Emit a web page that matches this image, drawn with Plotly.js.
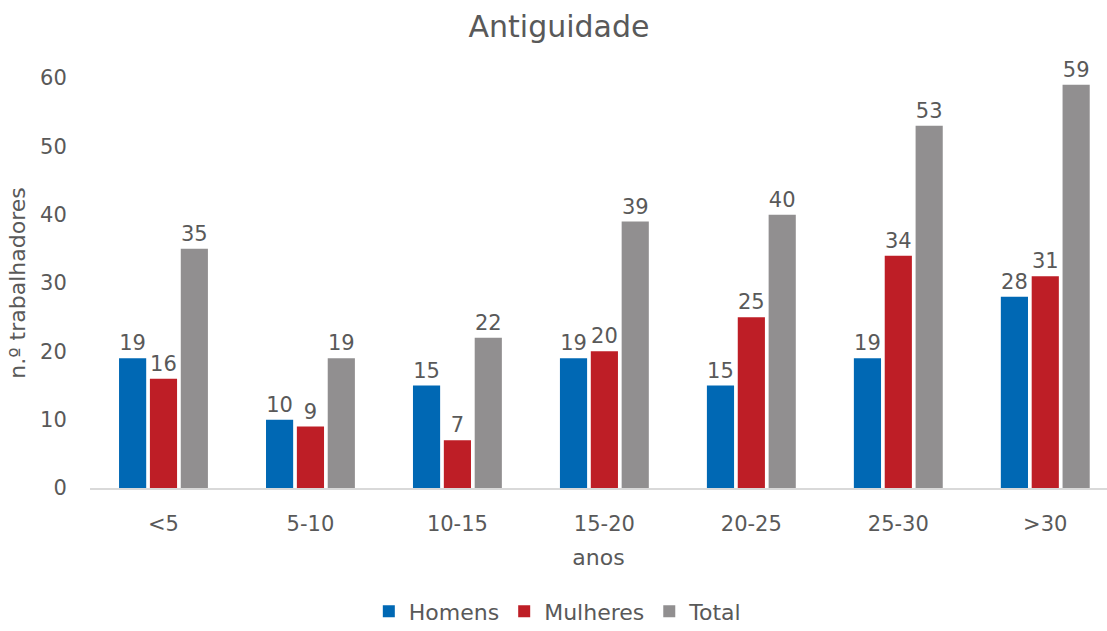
<!DOCTYPE html>
<html>
<head>
<meta charset="utf-8">
<script src="https://cdn.plot.ly/plotly-3.0.1.min.js"></script>
<style>html,body{margin:0;padding:0;background:#fff;}#chart{width:1107px;height:631px;}</style>
</head>
<body>
<div id="chart"></div>
<script>
var categories = ['<5', '5-10', '10-15', '15-20', '20-25', '25-30', '>30'];
var homens = [19, 10, 15, 19, 15, 19, 28];
var mulheres = [16, 9, 7, 20, 25, 34, 31];
var total = [35, 19, 22, 39, 40, 53, 59];

var fontFam = '"DejaVu Sans", "Open Sans", sans-serif';
var txtColor = '#595959';

function series(name, vals, color) {
  return {
    x: categories,
    y: vals,
    type: 'bar',
    name: name,
    text: vals.map(String),
    textposition: 'outside',
    cliponaxis: false,
    textfont: {family: fontFam, size: 21, color: txtColor},
    marker: {color: color},
    hoverinfo: 'x+y+name'
  };
}

var data = [
  series('Homens', homens, '#0068b4'),
  series('Mulheres', mulheres, '#be1e26'),
  series('Total', total, '#918f90')
];

var layout = {
  width: 1107,
  height: 631,
  margin: {l: 90, r: 0, t: 78, b: 143, autoexpand: false},
  paper_bgcolor: '#fff',
  plot_bgcolor: '#fff',
  font: {family: fontFam, color: txtColor},
  title: {text: 'Antiguidade', x: 0.505, xanchor: 'center', y: 0.958, yanchor: 'middle',
          font: {family: fontFam, size: 30, color: txtColor}},
  barmode: 'group',
  bargap: 0.37,
  bargroupgap: 0.12,
  showlegend: true,
  legend: {orientation: 'h', x: 0.46, xanchor: 'center', y: -0.25, yanchor: 'top',
           font: {family: fontFam, size: 22, color: txtColor}, itemwidth: 20, traceorder: 'normal'},
  xaxis: {
    range: [-0.5, 6.42],
    showline: true, linecolor: '#d9d9d9', linewidth: 2,
    showgrid: false, ticks: 'outside', ticklen: 16, tickcolor: 'rgba(0,0,0,0)',
    tickfont: {family: fontFam, size: 21, color: txtColor},
    title: {text: 'anos', standoff: 14, font: {family: fontFam, size: 22, color: txtColor}}
  },
  yaxis: {
    range: [0, 60], dtick: 10,
    showline: false, showgrid: false, zeroline: false,
    ticks: 'outside', ticklen: 18, tickcolor: 'rgba(0,0,0,0)',
    tickfont: {family: fontFam, size: 21, color: txtColor},
    title: {text: 'n.º trabalhadores', standoff: 8, font: {family: fontFam, size: 22, color: txtColor}}
  }
};

Plotly.newPlot('chart', data, layout, {displayModeBar: false});
</script>
</body>
</html>
